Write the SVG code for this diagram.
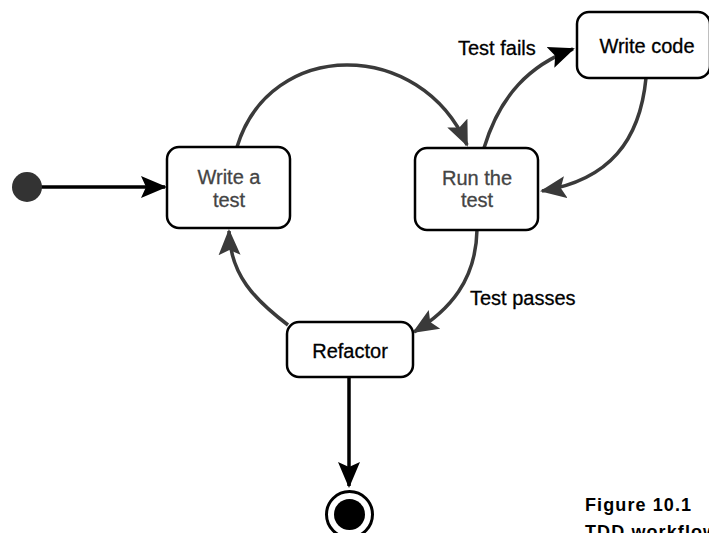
<svg xmlns="http://www.w3.org/2000/svg" width="709" height="533" viewBox="0 0 709 533">
  <style>
    .box { fill: #ffffff; stroke: #000000; stroke-width: 2.5; }
    .lbl { font-family: "Liberation Sans", Arial, sans-serif; font-size: 20px; fill: #000000; stroke: #000000; stroke-width: 0.3; }
    .soft { fill: #444444; stroke: #444444; }
    .edge { fill: none; stroke: #3a3a3a; stroke-width: 3.5; }
    .edge-dark { fill: none; stroke: #000000; stroke-width: 3.5; }
    .caption { font-family: "Liberation Sans", Arial, sans-serif; font-size: 18px; font-weight: bold; fill: #000000; letter-spacing: 1.1px; }
  </style>
  <defs>
    <marker id="head" markerUnits="userSpaceOnUse" markerWidth="28" markerHeight="24" viewBox="0 0 28 24" refX="24" refY="12" orient="auto">
      <path d="M0,1 L26,12 L0,23 L5,12 z" fill="#3a3a3a"/>
    </marker>
    <marker id="head-dark" markerUnits="userSpaceOnUse" markerWidth="28" markerHeight="24" viewBox="0 0 28 24" refX="24" refY="12" orient="auto">
      <path d="M0,1 L26,12 L0,23 L5,12 z" fill="#000000"/>
    </marker>
  </defs>

  <rect width="709" height="533" fill="#ffffff"/>

  <!-- transitions -->
  <g id="connectors">
    <path class="edge-dark" d="M40,187 L165,187" marker-end="url(#head-dark)"/>
    <path class="edge" d="M237,147 C270,38 420,38 467,145" marker-end="url(#head)"/>
    <path class="edge" d="M484,148 C500,95 530,65 573,49" marker-end="url(#head-dark)"/>
    <path class="edge" d="M646,78 C640,140 610,180 542,191" marker-end="url(#head)"/>
    <path class="edge" d="M477,230 C476,280 450,310 414,332" marker-end="url(#head)"/>
    <path class="edge" d="M288,325 C255,300 230,275 229,231" marker-end="url(#head)"/>
    <path class="edge-dark" d="M349,377 L349,486" marker-end="url(#head-dark)"/>
    <text class="lbl" x="458" y="55">Test fails</text>
    <text class="lbl" x="470" y="305">Test passes</text>
  </g>

  <!-- initial pseudo-state -->
  <g id="start">
    <circle cx="27" cy="187" r="15" fill="#333333"/>
  </g>

  <g id="write-test">
    <rect class="box" x="167" y="147" width="123" height="81" rx="12"/>
    <text class="lbl soft" x="229" y="184" text-anchor="middle">Write a</text>
    <text class="lbl soft" x="229" y="207" text-anchor="middle">test</text>
  </g>

  <g id="run-test">
    <rect class="box" x="415" y="148" width="123" height="82" rx="12"/>
    <text class="lbl soft" x="477" y="185" text-anchor="middle">Run the</text>
    <text class="lbl soft" x="477" y="207" text-anchor="middle">test</text>
  </g>

  <g id="write-code">
    <rect class="box" x="577" y="12" width="133" height="66" rx="12"/>
    <text class="lbl" x="647" y="53" text-anchor="middle">Write code</text>
  </g>

  <g id="refactor">
    <rect class="box" x="287" y="322" width="126" height="55" rx="12"/>
    <text class="lbl" x="350" y="358" text-anchor="middle">Refactor</text>
  </g>

  <!-- final pseudo-state -->
  <g id="end">
    <circle cx="349.5" cy="514.5" r="23" fill="#ffffff" stroke="#000000" stroke-width="3"/>
    <circle cx="349.5" cy="514.5" r="15.5" fill="#000000"/>
  </g>

  <g id="caption">
    <text class="caption" x="585" y="511">Figure 10.1</text>
    <text class="caption" x="585" y="538">TDD workflow</text>
  </g>
</svg>
